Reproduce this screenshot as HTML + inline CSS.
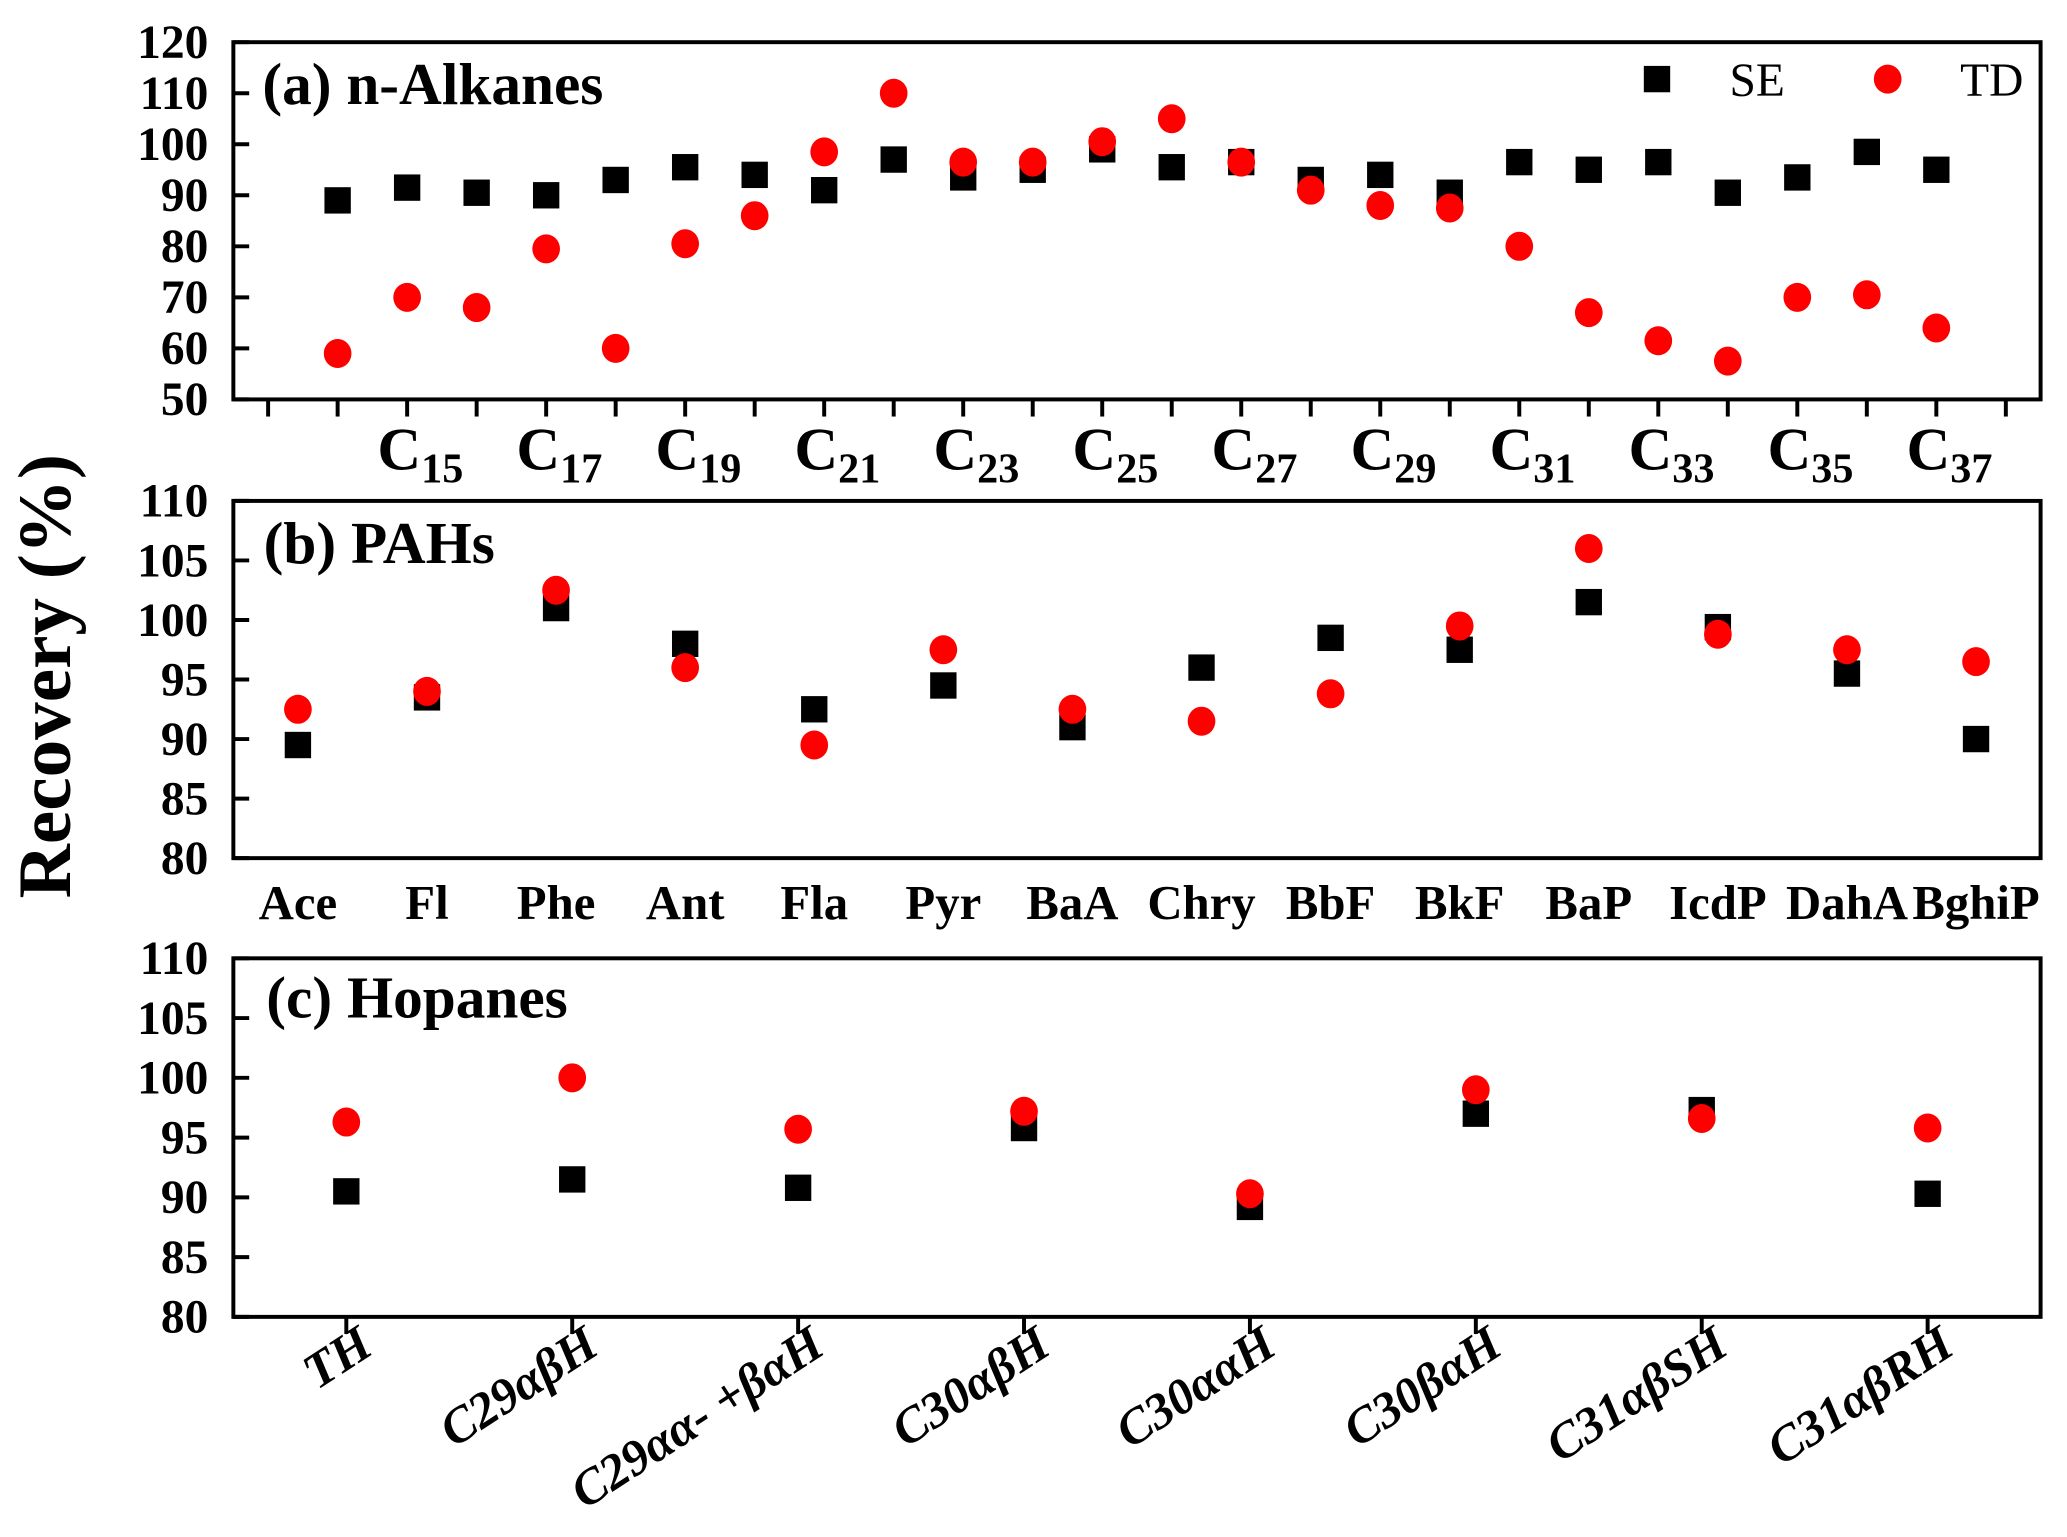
<!DOCTYPE html>
<html><head><meta charset="utf-8"><style>
html,body{margin:0;padding:0;background:#fff}
svg{display:block;font-family:"Liberation Serif","DejaVu Serif",serif;font-weight:bold}
</style></head><body>
<svg id="chart" width="2067" height="1537" viewBox="0 0 1568 1166" xmlns="http://www.w3.org/2000/svg"></svg>
<script>
const alkCats = [14,15,16,17,18,19,20,21,22,23,24,25,26,27,28,29,30,31,32,33,34,35,36,37];
const alkSE = [89,91.5,90.5,90,93,95.5,94,91,97,93.5,95,99,95.5,96.5,93,94,90.5,96.5,95,96.5,90.5,93.5,98.5,95];
const alkTD = [59,70,68,79.5,60,80.5,86,98.5,110,96.5,96.5,100.5,105,96.5,91,88,87.5,80,67,61.5,57.5,70,70.5,64];
const alkTicks = [50,60,70,80,90,100,110,120];
const pahCats = ["Ace","Fl","Phe","Ant","Fla","Pyr","BaA","Chry","BbF","BkF","BaP","IcdP","DahA","BghiP"];
const pahSE = [89.5,93.5,101,98,92.5,94.5,91,96,98.5,97.5,101.5,99.4,95.5,90];
const pahTD = [92.5,94,102.5,96,89.5,97.5,92.5,91.5,93.8,99.5,106,98.8,97.5,96.5];
const hopCats = ["TH","C29αβH","C29αα- +βαH","C30αβH","C30ααH","C30βαH","C31αβSH","C31αβRH"];
const hopSE = [90.5,91.5,90.8,95.8,89.2,97,97.3,90.3];
const hopTD = [96.3,100,95.7,97.2,90.3,99,96.6,95.8];
const pTicks = [80,85,90,95,100,105,110];

const NS="http://www.w3.org/2000/svg";
const svg=document.getElementById('chart');
function mk(tag,attrs,parent){const e=document.createElementNS(NS,tag);for(const k in attrs)e.setAttribute(k,attrs[k]);(parent||svg).appendChild(e);return e;}
const L=177,R=1548;
function panel(top,bot,ymin,ymax,xmin,xmax,ticks,name){
  const g=mk('g',{});
  
  
  const y=v=>bot-(v-ymin)/(ymax-ymin)*(bot-top);
  const x=v=>L+(v-xmin)/(xmax-xmin)*(R-L);
  const fr=mk('rect',{x:L,y:top,width:R-L,height:bot-top,fill:'none',stroke:'#000','stroke-width':3},g);
  
  
  ticks.forEach(t=>{
    const yy=y(t);
    const tl=mk('line',{x1:L,x2:L+12,y1:yy,y2:yy,stroke:'#000','stroke-width':3},g);
    
    
    const tx=mk('text',{x:158,y:yy+12,'text-anchor':'end','font-size':36},g);
    tx.textContent=t;
    
    
  });
  return {g,x,y};
}
function pts(P,xs,se,td){
  xs.forEach((xv,i)=>{
    const s=mk('rect',{x:P.x(xv)-10,y:P.y(se[i])-10,width:20,height:20,fill:'#000'},P.g);
    
    
  });
  xs.forEach((xv,i)=>{
    const c=mk('ellipse',{cx:P.x(xv),cy:P.y(td[i]),rx:10.5,ry:11,fill:'#ff0000'},P.g);
    
    
  });
}
// Panel a
const A=panel(32,303,50,120,12.5,38.5,alkTicks,'panel-alkanes');
for(let c=13;c<=38;c++){
  const t=mk('line',{x1:A.x(c),x2:A.x(c),y1:303,y2:316,stroke:'#000','stroke-width':3},A.g);
  
  
  if(c%2===1&&c>=15&&c<=37){
    const tx=mk('text',{x:A.x(c)+10,y:356,'text-anchor':'middle','font-size':46},A.g);
    
    
    tx.innerHTML='C<tspan font-size="32" dy="10">'+c+'</tspan>';
  }
}
pts(A,alkCats,alkSE,alkTD);
let t1=mk('text',{x:199,y:79,'font-size':45},A.g);t1.textContent='(a) n-Alkanes';


const lg=mk('g',{},A.g);


let ls=mk('rect',{x:1247,y:50,width:20,height:20,fill:'#000'},lg);


let lt=mk('text',{x:1312,y:73,'font-size':36,'font-weight':'normal'},lg);lt.textContent='SE';


let lc=mk('ellipse',{cx:1432,cy:60,rx:10.5,ry:11,fill:'#ff0000'},lg);


let lt2=mk('text',{x:1487,y:73,'font-size':36,'font-weight':'normal'},lg);lt2.textContent='TD';



// Panel b
const B=panel(380,651,80,110,-0.5,13.5,pTicks,'panel-pahs');
pahCats.forEach((c,i)=>{
  const tx=mk('text',{x:B.x(i),y:697,'text-anchor':'middle','font-size':37},B.g);
  tx.textContent=c;
  
  
});
pts(B,pahCats.map((_,i)=>i),pahSE,pahTD);
let t2=mk('text',{x:200,y:427,'font-size':45},B.g);t2.textContent='(b) PAHs';



// Panel c
const C=panel(727,999,80,110,-0.5,7.5,pTicks,'panel-hopanes');
hopCats.forEach((c,i)=>{
  const xx=C.x(i);
  const t=mk('line',{x1:xx,x2:xx,y1:999,y2:1012,stroke:'#000','stroke-width':3},C.g);
  
  
  const tx=mk('text',{x:xx+22,y:1026,'text-anchor':'end','font-size':38,'font-style':'italic',transform:'rotate(-33 '+(xx+22)+' 1026)'},C.g);
  tx.textContent=c;
  
  
});
pts(C,hopCats.map((_,i)=>i),hopSE,hopTD);
let t3=mk('text',{x:202,y:772,'font-size':45},C.g);t3.textContent='(c) Hopanes';



let yt=mk('text',{x:40,y:513,'text-anchor':'middle','font-size':57,transform:'rotate(-90 40 513)','dominant-baseline':'middle'});
yt.textContent='Recovery (%)';


</script>
</body></html>
